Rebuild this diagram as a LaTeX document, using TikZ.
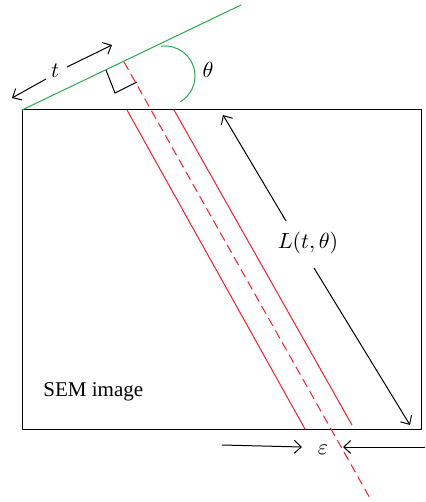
\documentclass[tikz,border=0pt]{standalone}
\usepackage{fontspec}
\setmainfont{Liberation Serif}
\usetikzlibrary{arrows.meta}
\definecolor{lgreen}{RGB}{40,170,75}
\definecolor{lred}{RGB}{235,35,45}
\tikzset{
  dimarrow/.style={draw=black, line width=0.5pt, -{Straight Barb[length=3.5pt,width=6.5pt]}},
  redline/.style={draw=lred, line width=0.5pt},
  reddash/.style={draw=lred, line width=0.5pt, dash pattern=on 4.5pt off 2.5pt},
  greenline/.style={draw=lgreen, line width=0.5pt},
  lbl/.style={inner sep=0pt, font=\fontsize{10.5}{12}\selectfont}
}
\begin{document}
\begin{tikzpicture}[x=0.5pt, y=-0.5pt]
\useasboundingbox (0,0) rectangle (425,502);
% SEM image frame
\draw[line width=0.5pt] (22,110) rectangle (421,429);
\node[lbl, anchor=west] (sem) at (43,392) {SEM image};
% green surface line
\coordinate (g0) at (22,110);
\coordinate (g1) at (241,5);
\draw[greenline] (g0) -- (g1);
% angle arc
\draw[greenline] ([shift={(-98:30)}]165,76) arc[start angle=-98, end angle=59, radius=30];
\node[lbl] (theta) at (208,70) {$\theta$};
% right angle mark
\coordinate (ra0) at (106,70);
\coordinate (ra1) at (115,93);
\coordinate (ra2) at (137,82);
\draw[line width=0.5pt] (ra0) -- (ra1) -- (ra2);
% red lines
\coordinate (rl0) at (127,110);
\coordinate (rl1) at (305,429);
\coordinate (rr0) at (174,110);
\coordinate (rr1) at (352,425);
\coordinate (d0) at (124,62);
\coordinate (d1) at (371,500);
\draw[redline] (rl0) -- (rl1);
\draw[redline] (rr0) -- (rr1);
\draw[reddash] (d0) -- (d1);
% t arrows
\node[lbl] (t) at (55,71) {$t$};
\coordinate (ta0) at (46,79);
\coordinate (ta1) at (12,98);
\coordinate (tb0) at (67,67);
\coordinate (tb1) at (112,45);
\draw[dimarrow] (ta0) -- (ta1);
\draw[dimarrow] (tb0) -- (tb1);
% L arrows
\node[lbl] (L) at (308,243) {$L(t,\theta)$};
\coordinate (la0) at (286,221);
\coordinate (la1) at (223,115);
\coordinate (lb0) at (314,268);
\coordinate (lb1) at (410,425);
\draw[dimarrow] (la0) -- (la1);
\draw[dimarrow] (lb0) -- (lb1);
% epsilon arrows
\node[lbl] (eps) at (323,450) {$\varepsilon$};
\coordinate (ea0) at (222,445);
\coordinate (ea1) at (302,447);
\coordinate (eb0) at (425,447);
\coordinate (eb1) at (343,447);
\draw[dimarrow] (ea0) -- (ea1);
\draw[dimarrow] (eb0) -- (eb1);
\end{tikzpicture}
\end{document}
